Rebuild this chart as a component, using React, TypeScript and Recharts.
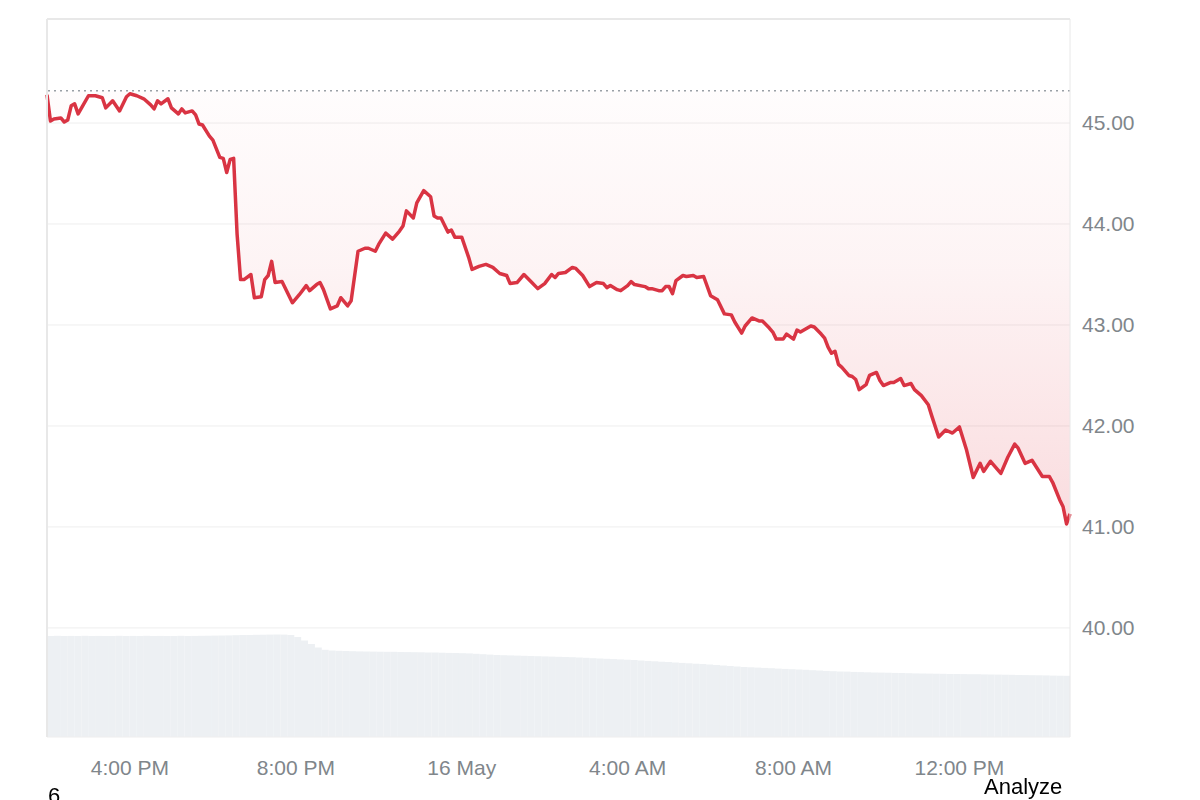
import {
  ComposedChart,
  BarChart,
  Bar,
  Area,
  XAxis,
  YAxis,
  CartesianGrid,
  ReferenceLine,
} from "recharts"

// minutes after 14:00 on 15 May
const priceMinutes = [
  0, 5, 10, 20, 25, 30, 35, 40, 45, 50, 60, 65, 70, 80, 85, 95, 105, 115, 120, 130,
  140, 150, 155, 160, 165, 175, 180, 190, 195, 200, 210, 215, 220, 225, 235, 240,
  250, 255, 260, 265, 270, 275, 280, 285, 295, 300, 310, 315, 320, 325, 330, 340,
  355, 365, 375, 380, 390, 395, 400, 410, 420, 425, 435, 440, 450, 460, 465, 475,
  480, 490, 500, 510, 515, 520, 530, 535, 545, 555, 560, 565, 570, 580, 585, 590,
  600, 610, 615, 625, 635, 645, 655, 665, 670, 680, 690, 700, 710, 720, 730, 735,
  740, 750, 760, 765, 775, 785, 795, 805, 810, 815, 825, 830, 840, 845, 850, 865,
  870, 875, 885, 890, 895, 900, 905, 910, 920, 925, 935, 940, 950, 960, 970, 980,
  990, 995, 1005, 1010, 1020, 1030, 1035, 1045, 1050, 1055, 1065, 1070, 1080, 1085,
  1090, 1105, 1110, 1120, 1125, 1130, 1135, 1140, 1145, 1150, 1160, 1165, 1170,
  1175, 1185, 1190, 1200, 1205, 1210, 1220, 1225, 1235, 1240, 1250, 1255, 1265,
  1275, 1280, 1290, 1300, 1310, 1320, 1330, 1340, 1350, 1355, 1365, 1380, 1390,
  1400, 1405, 1415, 1425, 1440, 1450, 1455, 1465, 1470, 1475, 1480,
]

const prices = [
  45.28, 45.02, 45.04, 45.05, 45.01, 45.03, 45.17, 45.19, 45.09, 45.15, 45.27, 45.27,
  45.27, 45.25, 45.15, 45.22, 45.12, 45.26, 45.29, 45.27, 45.24, 45.18, 45.14, 45.22,
  45.19, 45.24, 45.15, 45.09, 45.14, 45.1, 45.12, 45.08, 44.99, 44.98, 44.87, 44.83,
  44.66, 44.65, 44.51, 44.64, 44.65, 43.9, 43.45, 43.45, 43.5, 43.27, 43.28, 43.45,
  43.49, 43.63, 43.42, 43.43, 43.22, 43.3, 43.39, 43.34, 43.4, 43.42, 43.35, 43.16,
  43.19, 43.27, 43.19, 43.24, 43.73, 43.76, 43.76, 43.73, 43.8, 43.91, 43.85, 43.93,
  43.98, 44.13, 44.06, 44.21, 44.33, 44.27, 44.08, 44.06, 44.06, 43.92, 43.94, 43.87,
  43.87, 43.67, 43.55, 43.58, 43.6, 43.57, 43.51, 43.49, 43.41, 43.42, 43.5, 43.43,
  43.36, 43.41, 43.5, 43.47, 43.51, 43.52, 43.57, 43.56, 43.49, 43.38, 43.42, 43.41,
  43.37, 43.39, 43.35, 43.34, 43.39, 43.43, 43.4, 43.38, 43.36, 43.36, 43.34, 43.34,
  43.38, 43.38, 43.31, 43.44, 43.49, 43.48, 43.49, 43.47, 43.48, 43.29, 43.25, 43.11,
  43.1, 43.03, 42.92, 42.99, 43.07, 43.04, 43.04, 42.97, 42.93, 42.86, 42.86, 42.91,
  42.86, 42.95, 42.93, 42.99, 42.98, 42.91, 42.87, 42.78, 42.72, 42.74, 42.61, 42.58,
  42.5, 42.49, 42.46, 42.36, 42.41, 42.5, 42.53, 42.45, 42.4, 42.43, 42.43, 42.47,
  42.4, 42.42, 42.36, 42.3, 42.21, 42.1, 41.89, 41.96, 41.93, 41.99, 41.77, 41.49,
  41.63, 41.55, 41.65, 41.53, 41.69, 41.82, 41.78, 41.63, 41.66, 41.5, 41.5, 41.44,
  41.27, 41.2, 41.03, 41.13,
]

const previousClose = 45.32

// volume every 10 minutes, thousands of shares
const volumes = [
  1010, 1012, 1010, 1011, 1010, 1012, 1010, 1011, 1010, 1010, 1012, 1010, 1011, 1010,
  1012, 1010, 1011, 1010, 1010, 1012, 1010, 1011, 1012, 1013, 1014, 1015, 1016, 1018,
  1020, 1020, 1022, 1023, 1024, 1025, 1024, 1020, 1000, 965, 930, 895, 872, 865, 862,
  860, 858, 856, 855, 854, 853, 852, 852, 850, 849, 848, 847, 845, 845, 843, 841, 840,
  838, 836, 832, 828, 824, 820, 818, 816, 814, 812, 810, 808, 806, 804, 802, 800, 798,
  795, 792, 788, 785, 782, 779, 776, 773, 770, 765, 761, 757, 753, 750, 745, 741, 737,
  733, 730, 725, 720, 715, 710, 705, 700, 697, 694, 691, 688, 684, 681, 678, 675, 672,
  668, 665, 661, 658, 655, 654, 651, 649, 647, 645, 644, 643, 641, 640, 638, 636, 635,
  634, 633, 632, 630, 630, 629, 628, 628, 626, 625, 624, 623, 622, 620, 619, 618, 617,
  616, 614, 613, 612,
]

const tickMinutes = [120, 360, 600, 840, 1080, 1320]
const tickLabels = ["4:00 PM", "8:00 PM", "16 May", "4:00 AM", "8:00 AM", "12:00 PM"]
const priceTicks = [40, 41, 42, 43, 44, 45]

const priceData = priceMinutes.map((t, i) => ({ t, p: prices[i] }))
const volumeData = volumes.map((v, i) => ({ t: i * 10, v }))

const W = 1180
const H = 784
const margin = { top: 11, right: 0, bottom: 0, left: 39 }
const font = "'Liberation Sans', Arial, sans-serif"
const tickStyle = { fill: "#80868b", fontSize: 21, fontFamily: font }

const App = () => {
  return (
    <div style={{ position: "relative", width: W, height: H, fontFamily: font }}>
      <div style={{ position: "absolute", left: 0, top: 0 }}>
        <BarChart
          width={W}
          height={H}
          data={volumeData}
          margin={{ top: 11, right: 118, bottom: 55, left: 39 }}
          barCategoryGap={0}
        >
          <XAxis dataKey="t" hide />
          <YAxis hide domain={[0, 7180]} />
          <Bar dataKey="v" fill="#edf0f3" isAnimationActive={false} />
        </BarChart>
      </div>
      <div style={{ position: "absolute", left: 0, top: 0 }}>
        <ComposedChart width={W} height={H} data={priceData} margin={margin}>
          <defs>
            <linearGradient id="fall" x1="0" y1="0" x2="0" y2="1">
              <stop offset="0%" stopColor="#e0303f" stopOpacity={0.02} />
              <stop offset="40%" stopColor="#e0303f" stopOpacity={0.09} />
              <stop offset="100%" stopColor="#e0303f" stopOpacity={0.28} />
            </linearGradient>
          </defs>
          <CartesianGrid vertical={false} stroke="#eeeeee" yAxisId="price" />
          <XAxis
            dataKey="t"
            type="number"
            domain={[0, 1480]}
            ticks={tickMinutes}
            tickFormatter={(v) => tickLabels[tickMinutes.indexOf(v)]}
            axisLine={false}
            tickLine={false}
            tickSize={0}
            tickMargin={23}
            height={55}
            tick={tickStyle}
            interval={0}
          />
          <YAxis
            yAxisId="price"
            orientation="right"
            domain={[38.92, 46.03]}
            ticks={priceTicks}
            tickFormatter={(v) => v.toFixed(2)}
            axisLine={{ stroke: "#e8e8e8" }}
            tickLine={false}
            tickSize={0}
            tickMargin={12}
            width={118}
            tick={tickStyle}
            interval={0}
            allowDataOverflow
          />
          <ReferenceLine yAxisId="price" y={46.03} stroke="#e8e8e8" strokeWidth={2} />
          <ReferenceLine yAxisId="price" x={0} stroke="#e8e8e8" strokeWidth={2} />
          <ReferenceLine
            yAxisId="price"
            y={previousClose}
            stroke="#9aa0a6"
            strokeWidth={1.5}
            strokeDasharray="2 4"
          />
          <Area
            yAxisId="price"
            type="linear"
            dataKey="p"
            baseValue={previousClose}
            stroke="#d93443"
            strokeWidth={3.5}
            strokeLinejoin="round"
            fill="url(#fall)"
            dot={false}
            activeDot={false}
            isAnimationActive={false}
          />
        </ComposedChart>
      </div>
      <div
        style={{
          position: "fixed",
          left: 984,
          top: 774,
          fontSize: 22,
          lineHeight: "normal",
          color: "#000",
          whiteSpace: "nowrap",
        }}
      >
        Analyze
      </div>
      <div
        style={{
          position: "fixed",
          left: 48,
          top: 783,
          fontSize: 22,
          lineHeight: "normal",
          color: "#000",
        }}
      >
        6
      </div>
    </div>
  )
}

export default App
